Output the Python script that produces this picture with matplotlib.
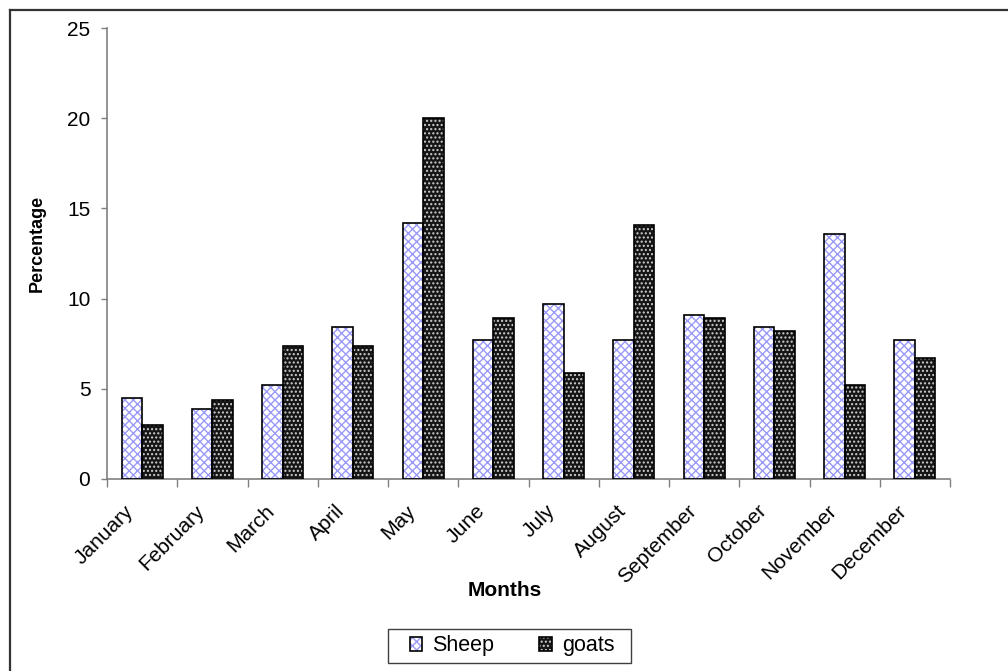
import numpy as np
import matplotlib
matplotlib.use("Agg")
import matplotlib.pyplot as plt
import matplotlib.transforms as mtransforms
from matplotlib.patches import Patch, Rectangle
from matplotlib.lines import Line2D

plt.rcParams["font.family"] = ["Liberation Sans", "DejaVu Sans"]
plt.rcParams["hatch.linewidth"] = 1.0

months = ["January", "February", "March", "April", "May", "June", "July",
          "August", "September", "October", "November", "December"]
sheep = [4.5, 3.9, 5.2, 8.4, 14.2, 7.7, 9.7, 7.7, 9.1, 8.4, 13.6, 7.7]
goats = [3.0, 4.4, 7.4, 7.4, 20.0, 8.9, 5.9, 14.1, 8.9, 8.2, 5.2, 6.7]
y_ticks = [0, 5, 10, 15, 20, 25]

W, H, DPI = 1008, 671, 100
fig = plt.figure(figsize=(W / DPI, H / DPI), dpi=DPI)
ax = fig.add_axes([107 / W, 1 - 479 / H, (950 - 107) / W, (479 - 28) / H])

x = np.arange(len(months))
bw = 0.293
sheep_face = dict(facecolor="white", edgecolor="#9a9af8", hatch="xxxx", linewidth=0)
goat_face = dict(facecolor="#151515", edgecolor="#cfcfcf", hatch="....", linewidth=0)
outline = dict(facecolor="none", edgecolor="black", linewidth=1.2)

ax.bar(x - bw / 2, sheep, bw, zorder=2, **sheep_face)
ax.bar(x - bw / 2, sheep, bw, zorder=3, **outline)
ax.bar(x + bw / 2, goats, bw, zorder=2, **goat_face)
ax.bar(x + bw / 2, goats, bw, zorder=3, **outline)

ax.set_xlim(-0.5, len(months) - 0.5)
ax.set_ylim(0, 25)
ax.set_yticks(y_ticks)
ax.tick_params(axis="y", labelsize=15, length=4, width=1, color="#808080", pad=8)

# category labels at centres, tick marks at category boundaries
ax.set_xticks(x)
ax.set_xticklabels(months, rotation=45, ha="right", va="center",
                   rotation_mode="anchor", fontsize=15)
ax.tick_params(axis="x", which="major", length=0, pad=21)
ax.set_xticks(np.arange(-0.5, len(months)), minor=True)
ax.tick_params(axis="x", which="minor", length=6, width=1, color="#808080")
shift = mtransforms.ScaledTranslation(-11 / DPI, 0, fig.dpi_scale_trans)
for lab in ax.get_xticklabels():
    lab.set_transform(lab.get_transform() + shift)

for s in ["top", "right"]:
    ax.spines[s].set_visible(False)
for s in ["left", "bottom"]:
    ax.spines[s].set_color("#808080")
    ax.spines[s].set_linewidth(1.2)
ax.set_facecolor("white")

fig.text(37 / W, 1 - 243 / H, "Percentage", rotation=90, ha="center", va="center",
         fontsize=13, fontweight="bold")
fig.text(505 / W, 1 - 590 / H, "Months", ha="center", va="center",
         fontsize=15, fontweight="bold")

handles = [
    (Patch(**sheep_face), Patch(**outline)),
    (Patch(**goat_face), Patch(**outline)),
]
leg = fig.legend(handles, ["Sheep", "goats"], ncol=2,
                 loc="center", bbox_to_anchor=(512 / W, 1 - 646 / H),
                 fontsize=15.5, frameon=False,
                 handlelength=0.6, handleheight=0.6, handletextpad=0.45,
                 columnspacing=2.1, borderpad=0.3)

# legend box
fig.add_artist(Rectangle((388 / W, 1 - 663 / H), (631 - 388) / W, (663 - 629) / H,
                         transform=fig.transFigure, facecolor="none",
                         edgecolor="#404040", linewidth=1.0))

# outer chart border
fig.add_artist(Line2D([9.5 / W, 9.5 / W], [1 - 9.5 / H, 0], transform=fig.transFigure,
                      color="#333333", linewidth=1.6))
fig.add_artist(Line2D([9.5 / W, 1], [1 - 9.5 / H, 1 - 9.5 / H], transform=fig.transFigure,
                      color="#333333", linewidth=1.6))

fig.savefig("out.png", dpi=DPI, facecolor="white")
